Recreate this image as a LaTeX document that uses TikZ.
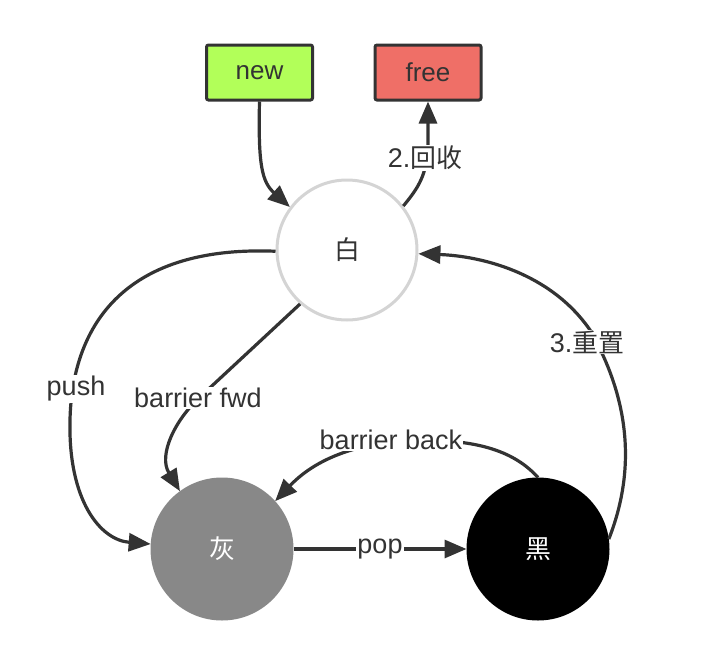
\documentclass[tikz,border=0pt]{standalone}
\usepackage{fontspec}
\setmainfont{Liberation Sans}
\newfontfamily\cjk[Scale=0.96]{Noto Sans CJK SC}
\usetikzlibrary{arrows.meta}
\definecolor{ink}{HTML}{333333}
\definecolor{newgreen}{HTML}{B2FF59}
\definecolor{freered}{HTML}{EF6F67}
\definecolor{ringgray}{HTML}{D4D4D4}
\definecolor{midgray}{HTML}{888888}
\tikzset{
  lbl/.style={font=\fontsize{27}{31}\selectfont, text=ink, fill=white, inner sep=1pt},
  box/.style={draw=ink, line width=3pt, rounded corners=2pt, minimum width=106pt, minimum height=55pt, font=\fontsize{26}{30}\selectfont, text=ink},
  state/.style={circle, minimum size=140pt, inner sep=0pt, line width=3pt, font=\fontsize{27}{31}\selectfont\cjk},
  edge/.style={draw=ink, line width=3.2pt, -{Triangle[length=22pt,width=18pt]}}
}
\begin{document}
\begin{tikzpicture}[x=1pt,y=-1pt]
\useasboundingbox (0,0) rectangle (718,664);
% nodes
\node[box, fill=newgreen] (new) at (259.5,72.5) {new};
\node[box, fill=freered] (free) at (428,72.5) {free};
\node[state, draw=ringgray, fill=white, text=ink] (white) at (347,250) {白};
\node[state, draw=midgray, fill=midgray, text=white] (gray) at (222,549) {灰};
\node[state, draw=black, fill=black, text=white] (black) at (538,549) {黑};
% edges
\draw[edge] (new.south) .. controls (258,165) and (262,182) .. (white.143);
\draw[edge] (white.38) .. controls (418,188) and (428,175) .. (428,140) -- (free.south);
\draw[edge] (white.181) .. controls (120,245) and (72,330) .. (70,420) .. controls (68,500) and (100,540) .. (gray.176);
\draw[edge] (white.229) -- (200,397) .. controls (175,420) and (158,455) .. (gray.126);
\draw[edge] (black.90) .. controls (515,452) and (480,440) .. (420,440) .. controls (340,442) and (305,470) .. (gray.42);
\draw[edge] (gray.east) -- (black.west);
\draw[edge] (black.8) .. controls (636,470) and (630,400) .. (590,330) .. controls (550,272) and (480,256) .. (white.-3);
% labels
\node[lbl] (l2) at (425,158) {2.{\cjk 回收}};
\node[lbl] (lpush) at (76,389) {push};
\node[lbl] (lfwd) at (198,398) {barrier fwd};
\node[lbl] (lback) at (391,440) {barrier back};
\node[lbl] (l3) at (587,342) {3.{\cjk 重置}};
\node[lbl] (lpop) at (380,549) {pop};
\end{tikzpicture}
\end{document}
